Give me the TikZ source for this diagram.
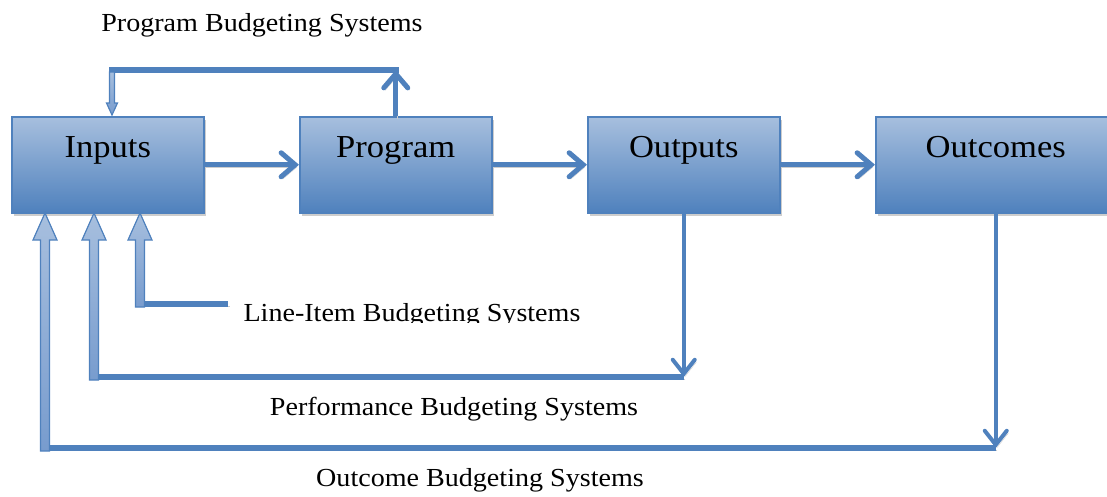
\documentclass[tikz,border=0pt]{standalone}
\usepackage{fontspec}
\setmainfont[FakeStretch=1.08]{Liberation Serif}
\usetikzlibrary{arrows.meta,shadows}
\definecolor{bblue}{RGB}{79,129,189}
\definecolor{blight}{RGB}{167,191,222}
\definecolor{bmid}{RGB}{120,156,206}
\definecolor{shad}{RGB}{205,205,205}
\begin{document}
\begin{tikzpicture}[x=1pt,y=-1pt,
  box/.style={draw=bblue, line width=1.5pt, top color=blight, bottom color=bblue,
    minimum width=192pt, minimum height=96pt, inner sep=2pt,
    text height=39pt, text depth=53pt, font=\fontsize{32}{36}\selectfont,
    anchor=north west,
    drop shadow={shadow xshift=2pt, shadow yshift=-3.5pt, fill=shad, opacity=1}},
  sh/.style={preaction={draw=shad, transform canvas={shift={(1.5pt,-2.5pt)}}}},
  flow/.style={draw=bblue, line width=5pt, sh,
    -{Straight Barb[length=14pt,width=24pt,line cap=round]}},
  drop/.style={draw=bblue, line width=4pt, sh,
    -{Straight Barb[length=14pt,width=22pt,line cap=round]}},
  bar/.style={draw=bblue, line width=6pt, sh},
  hollow/.style={draw=bblue, line width=1.2pt, top color=blight, bottom color=bmid, line join=miter},
  lab/.style={font=\fontsize{26}{29}\selectfont, inner sep=0pt, anchor=base}
  ]
\useasboundingbox (0,0) rectangle (1107,496);

% boxes
\node[box] (in) at (11,116) {Inputs};
\node[box] (prog) at (299,116) {Program};
\node[box] (out) at (587,116) {Outputs};
\node[box, minimum width=240pt] (oc) at (875,116) {Outcomes};

% coordinates
\coordinate (ptop) at (prog.north |- 0,70);
\coordinate (ftop) at (112,70);
\coordinate (perf) at (out.south |- 0,377);
\coordinate (outc) at (oc.south |- 0,448);
\coordinate (li) at (228,304);

% main flow
\draw[flow] (in) -- (prog);
\draw[flow] (prog) -- (out);
\draw[flow] (out) -- (oc);

% program budgeting loop
\draw[flow] (prog.north) -- (ptop);
\draw[bar, line cap=rect] (ptop) -- (ftop);
\path[hollow] (109.5,72) -- (114.5,72) -- (114.5,103) -- (117.5,103) -- (112,115)
  -- (106.5,103) -- (109.5,103) -- cycle;

% bars
\draw[bar] (perf) -- (90,377);
\draw[bar] (outc) -- (41,448);
\draw[bar] (li) -- (136,304);

% drops
\draw[drop] (out.south) -- (perf);
\draw[drop] (oc.south) -- (outc);

% hollow up arrows into inputs
\path[hollow] (40.5,451) -- (40.5,240) -- (33,240) -- (45,213) -- (57,240) -- (49.5,240) -- (49.5,451) -- cycle;
\path[hollow] (89.5,380) -- (89.5,240) -- (82,240) -- (94,213) -- (106,240) -- (98.5,240) -- (98.5,380) -- cycle;
\path[hollow] (135.5,307) -- (135.5,240) -- (128,240) -- (140,213) -- (152,240) -- (144.5,240) -- (144.5,307) -- cycle;

% labels
\node[lab] (lprog) at (262,31) {Program Budgeting Systems};
\begin{scope}
\clip (230,280) rectangle (600,322.5);
\node[lab] (lli) at (412,321) {Line-Item Budgeting Systems};
\end{scope}
\node[lab] (lperf) at (454,415) {Performance Budgeting Systems};
\node[lab] (loc) at (480,486) {Outcome Budgeting Systems};
\end{tikzpicture}
\end{document}
